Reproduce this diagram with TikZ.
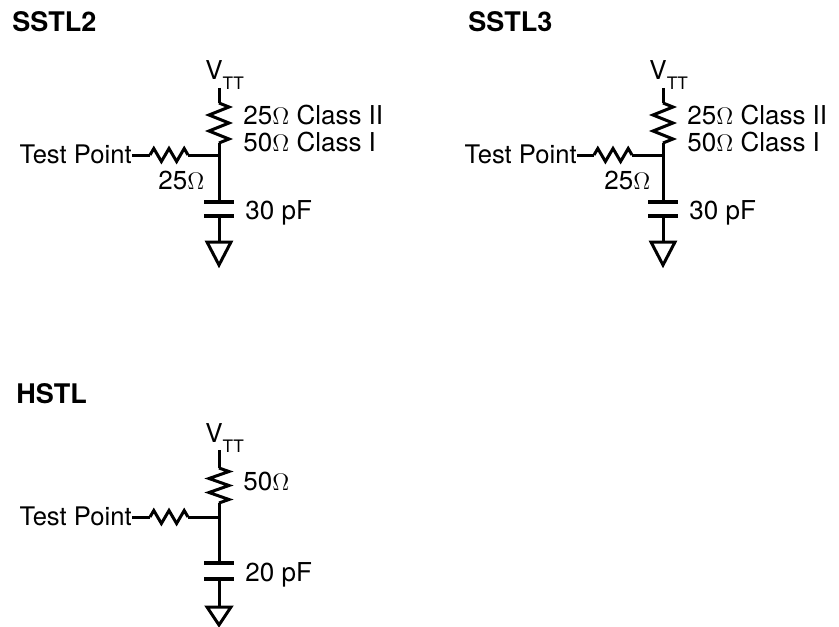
\documentclass[tikz,border=0pt]{standalone}
\usepackage{fontspec}
\setmainfont{TeX Gyre Heros}
\tikzset{
  wire/.style={line width=1.5pt},
  plate/.style={line width=1.8pt},
  lbl/.style={inner sep=0pt, font=\fontsize{13}{15}\selectfont},
  tplbl/.style={inner sep=0pt, font=\fontsize{12.8}{15}\selectfont},
  ttl/.style={inner sep=0pt, font=\fontsize{13.5}{16}\selectfont\bfseries},
  vres/.pic={\draw[wire] (0,0) -- (10,4) -- (-10,12) -- (10,20) -- (-10,28) -- (10,36) -- (0,40);},
  hres/.pic={\draw[wire] (0,0) -- (3.8,-6.5) -- (11.4,6.5) -- (19,-6.5) -- (26.6,6.5) -- (34.2,-6.5) -- (38,0);},
  gnd/.pic={\draw[wire] (-12,0) -- (12,0) -- (0,23) -- cycle;},
}
\newcommand{\vtt}{V\raisebox{-5pt}{\fontsize{8.6}{10}\selectfont TT}}
\begin{document}
\begin{tikzpicture}[x=0.5pt,y=-0.5pt]
\useasboundingbox (0,0) rectangle (839,626);

% SSTL2
\node[ttl, anchor=base west] (t2) at (12,32) {SSTL2};
\node[lbl, anchor=base west] (v2) at (205,80) {\vtt};
\coordinate (s2top) at (219,88);
\coordinate (s2rt) at (219,103);
\coordinate (s2rb) at (219,143);
\coordinate (s2j) at (219,155);
\coordinate (s2c1) at (219,202);
\coordinate (s2c2) at (219,216);
\coordinate (s2g) at (219,242);
\coordinate (s2ha) at (150,155);
\coordinate (s2hb) at (188,155);
\node[tplbl, anchor=base east] (tp2) at (132,163) {Test Point};
\draw[wire] (s2top) -- (s2rt);
\pic at (s2rt) {vres};
\draw[wire] (s2rb) -- (s2c1);
\draw[wire] (tp2.east |- s2ha) -- (s2ha);
\pic at (s2ha) {hres};
\draw[wire] (s2hb) -- (s2j);
\draw[plate] (s2c1) +(-15,0) -- +(15,0);
\draw[plate] (s2c2) +(-15,0) -- +(15,0);
\draw[wire] (s2c2) -- (s2g);
\pic at (s2g) {gnd};
\node[lbl, anchor=base west] (r2a) at (243,125) {25$\Omega$ Class II};
\node[lbl, anchor=base west] (r2b) at (243,151) {50$\Omega$ Class I};
\node[lbl, anchor=base west] (r2c) at (158,189) {25$\Omega$};
\node[lbl, anchor=base west] (c2) at (245,219) {30 pF};

% SSTL3
\node[ttl, anchor=base west] (t3) at (468,32) {SSTL3};
\node[lbl, anchor=base west] (v3) at (649,80) {\vtt};
\coordinate (s3top) at (663,88);
\coordinate (s3rt) at (663,103);
\coordinate (s3rb) at (663,143);
\coordinate (s3j) at (663,155);
\coordinate (s3c1) at (663,202);
\coordinate (s3c2) at (663,216);
\coordinate (s3g) at (663,242);
\coordinate (s3ha) at (594,155);
\coordinate (s3hb) at (632,155);
\node[tplbl, anchor=base east] (tp3) at (577,163) {Test Point};
\draw[wire] (s3top) -- (s3rt);
\pic at (s3rt) {vres};
\draw[wire] (s3rb) -- (s3c1);
\draw[wire] (tp3.east |- s3ha) -- (s3ha);
\pic at (s3ha) {hres};
\draw[wire] (s3hb) -- (s3j);
\draw[plate] (s3c1) +(-15,0) -- +(15,0);
\draw[plate] (s3c2) +(-15,0) -- +(15,0);
\draw[wire] (s3c2) -- (s3g);
\pic at (s3g) {gnd};
\node[lbl, anchor=base west] (r3a) at (687,125) {25$\Omega$ Class II};
\node[lbl, anchor=base west] (r3b) at (687,151) {50$\Omega$ Class I};
\node[lbl, anchor=base west] (r3c) at (604,189) {25$\Omega$};
\node[lbl, anchor=base west] (c3) at (689,219) {30 pF};

% HSTL
\node[ttl, anchor=base west] (th) at (16,403) {HSTL};
\node[lbl, anchor=base west] (vh) at (205,442) {\vtt};
\coordinate (htop) at (219,450);
\coordinate (hrt) at (219,468);
\coordinate (hrb) at (219,503);
\coordinate (hj) at (219,517);
\coordinate (hc1) at (219,563);
\coordinate (hc2) at (219,579);
\coordinate (hg) at (219,607);
\coordinate (hha) at (150,517);
\coordinate (hhb) at (188,517);
\node[tplbl, anchor=base east] (tph) at (132,525) {Test Point};
\draw[wire] (htop) -- (hrt);
\pic[yscale=0.875] at (hrt) {vres};
\draw[wire] (hrb) -- (hc1);
\draw[wire] (tph.east |- hha) -- (hha);
\pic at (hha) {hres};
\draw[wire] (hhb) -- (hj);
\draw[plate] (hc1) +(-15,0) -- +(15,0);
\draw[plate] (hc2) +(-15,0) -- +(15,0);
\draw[wire] (hc2) -- (hg);
\pic[yscale=0.78] at (hg) {gnd};
\node[lbl, anchor=base west] (rha) at (243,490) {50$\Omega$};
\node[lbl, anchor=base west] (ch) at (245,581) {20 pF};
\end{tikzpicture}
\end{document}
